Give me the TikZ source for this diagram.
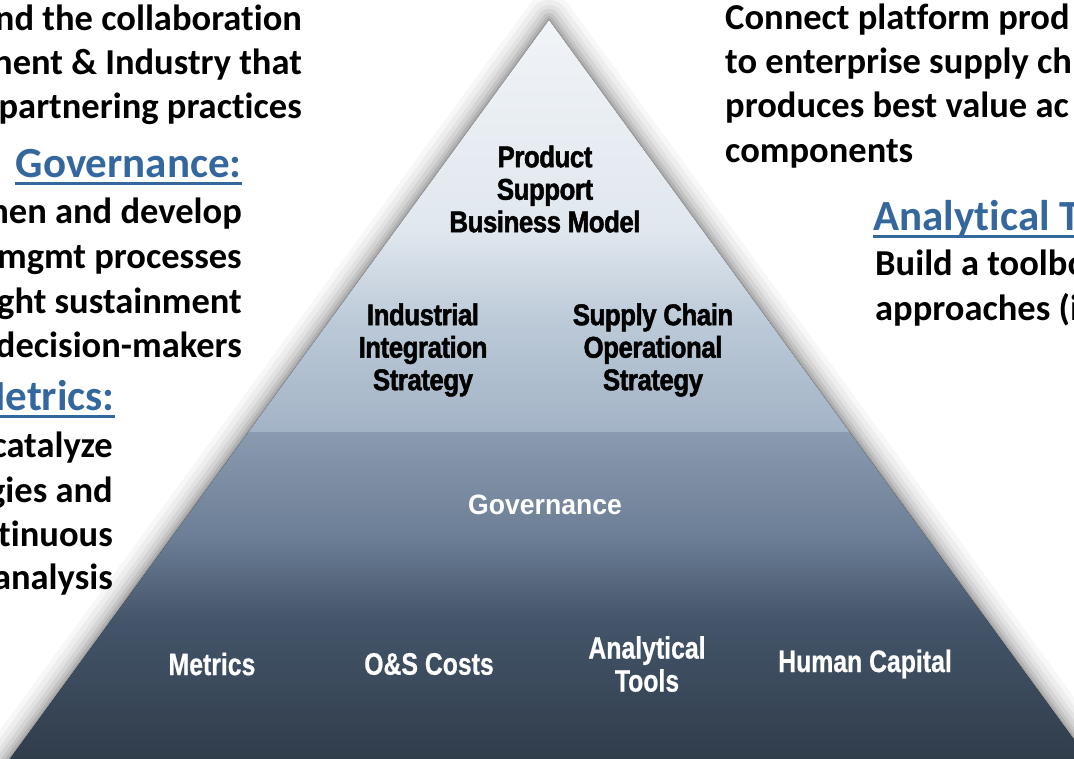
\documentclass[tikz,border=0pt]{standalone}
\usepackage{fontspec}
\setmainfont{Carlito}[Ligatures={NoCommon}]
\newfontfamily\pyrfont[FakeStretch=0.86,FakeBold=1.6,LetterSpace=-1.5]{Liberation Sans}
\newfontfamily\govfont[FakeStretch=0.95]{Liberation Sans}
\newfontfamily\narrowfont[FakeStretch=0.8,FakeBold=0.6]{Liberation Sans}
\definecolor{headblue}{HTML}{35679F}
\definecolor{pA}{HTML}{F2F5F8}
\definecolor{pB}{HTML}{E0E7EE}
\definecolor{pC}{HTML}{BCCAD8}
\definecolor{pD}{HTML}{A3B3C6}
\definecolor{pE}{HTML}{8A9BB0}
\definecolor{pF}{HTML}{6B7D94}
\definecolor{pG}{HTML}{44556A}
\definecolor{pH}{HTML}{2D3946}
\tikzset{
  body/.style={font=\fontsize{36.5}{44}\selectfont\bfseries, inner sep=0pt, text=black},
  head/.style={font=\fontsize{43}{50}\selectfont\bfseries, inner sep=0pt, text=headblue},
  uline/.style={headblue, line width=3pt},
  dark/.style={font=\pyrfont\fontsize{30}{32.5}\selectfont\bfseries, align=center, inner sep=0pt, text=black},
  light/.style={font=\narrowfont\fontsize{31}{33}\selectfont\bfseries, align=center, inner sep=0pt, text=white},
  shadowline/.style={line join=round, black!65}
}
\begin{document}
\begin{tikzpicture}[x=1pt,y=-1pt]
\useasboundingbox (0,0) rectangle (1074,758);
\clip (0,0) rectangle (1074,758);
\coordinate (apex) at (549,20);
\coordinate (bl) at (-4,778);
\coordinate (br) at (1102,778);
% shadow
\foreach \w/\o in {50/0.05,40/0.06,30/0.08,22/0.10,14/0.13,8/0.16,3/0.2}
  \draw[shadowline, line width=\w pt, opacity=\o] (apex) -- (bl) -- (br) -- cycle;
% pyramid fill
\begin{scope}
\clip (apex) -- (bl) -- (br) -- cycle;
\fill[top color=pA, bottom color=pB] (0,0) rectangle (1110,231);
\fill[top color=pB, bottom color=pC] (0,230) rectangle (1110,321);
\fill[top color=pC, bottom color=pD] (0,320) rectangle (1110,432);
\fill[top color=pE, bottom color=pF] (0,432) rectangle (1110,541);
\fill[top color=pF, bottom color=pG] (0,540) rectangle (1110,621);
\fill[top color=pG, bottom color=pH] (0,620) rectangle (1110,780);
\end{scope}
% pyramid labels
\node[dark] (psbm) at (545,189) {Product\\Support\\Business Model};
\node[dark] (iis) at (423,350) {Industrial\\Integration\\Strategy};
\node[dark] (scos) at (653,350) {Supply Chain\\Operational\\Strategy};
\node[light, font=\govfont\fontsize{28}{30}\selectfont\bfseries] (gov) at (545,505) {Governance};
\node[light] (met) at (212,664) {Metrics};
\node[light] (osc) at (429,664) {O\&S Costs};
\node[light] (at) at (647,664) {Analytical\\Tools};
\node[light] (hc) at (865,664) {Human Capital};
% left text
\node[body, anchor=base east] (l1) at (302,30) {nd the collaboration};
\node[body, anchor=base east] (l2) at (302,74) {nent \& Industry that};
\node[body, anchor=base east] (l3) at (302,118) {partnering practices};
\node[head, anchor=base east] (hgov) at (242,177) {Governance:};
\draw[uline] ([yshift=-6pt]hgov.base west) -- ([yshift=-6pt]hgov.base east);
\node[body, anchor=base east] (g1) at (242,223) {nen and develop};
\node[body, anchor=base east] (g2) at (242,268) {mgmt processes};
\node[body, anchor=base east] (g3) at (242,313) {ght sustainment};
\node[body, anchor=base east] (g4) at (242,357) {decision-makers};
\node[head, anchor=base east] (hmet) at (115,410) {Metrics:};
\draw[uline] ([yshift=-6pt]hmet.base west) -- ([yshift=-6pt]hmet.base east);
\node[body, anchor=base east] (m1) at (113,457) {catalyze};
\node[body, anchor=base east] (m2) at (113,502) {gies and};
\node[body, anchor=base east] (m3) at (113,546) {tinuous};
\node[body, anchor=base east] (m4) at (113,589) {analysis};
% right text
\node[body, anchor=base west] (r1) at (725,29) {Connect platform prod};
\node[body, anchor=base west] (r2) at (725,73) {to enterprise supply ch};
\node[body, anchor=base west] (r3) at (725,117) {produces best value ac};
\node[body, anchor=base west] (r4) at (725,162) {components};
\node[head, anchor=base west] (hat) at (873,230) {Analytical T};
\draw[uline] ([yshift=-6pt]hat.base west) -- ([yshift=-6pt]hat.base east);
\node[body, anchor=base west] (a1) at (875,275) {Build a toolbo};
\node[body, anchor=base west] (a2) at (875,320) {approaches (i};
\end{tikzpicture}
\end{document}
